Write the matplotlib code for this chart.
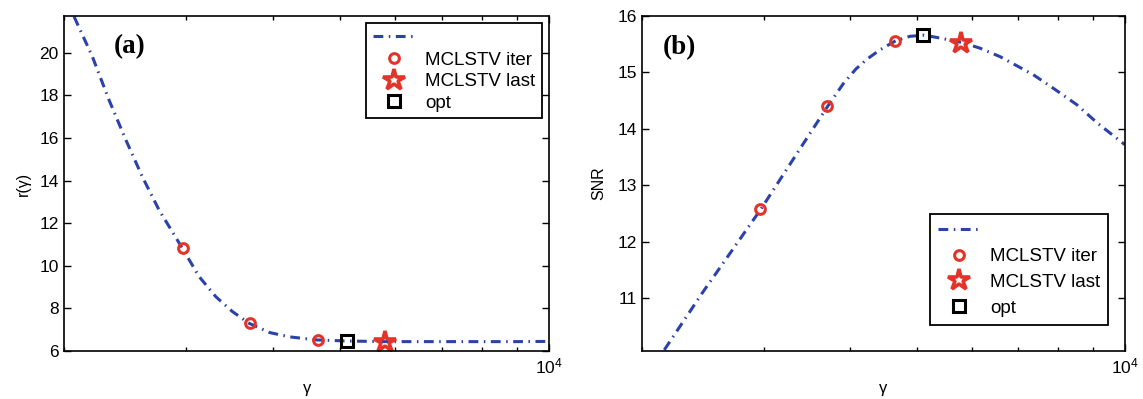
import matplotlib
matplotlib.use("Agg")
import matplotlib.pyplot as plt
from matplotlib.ticker import NullFormatter, FixedLocator, LogLocator

plt.rcParams['font.family'] = ['Liberation Sans', 'DejaVu Sans']
plt.rcParams['mathtext.default'] = 'regular'

# curve (a): r(gamma)
gam_a = [2066, 2195, 2320, 2453, 2591, 2739, 2960, 3129, 3307, 3495, 3694,
         3960, 4232, 4624, 5110, 5800, 6985, 8000, 8985, 10000]
r_a = [21.69, 19.82, 17.78, 15.91, 14.18, 12.62, 10.82, 9.49, 8.55, 7.85, 7.30,
       6.86, 6.66, 6.52, 6.47, 6.44, 6.44, 6.44, 6.44, 6.45]

# curve (b): SNR
gam_b = [2152, 2446, 2972, 3415, 3712, 3910, 4078, 4227, 4419, 4656, 4885,
         5117, 5397, 5814, 6169, 6595, 7369, 7877, 8517, 9133, 10000]
snr_b = [10.08, 11.10, 12.58, 13.72, 14.40, 14.80, 15.06, 15.23, 15.40, 15.56, 15.64,
         15.66, 15.61, 15.53, 15.43, 15.28, 14.96, 14.72, 14.43, 14.10, 13.72]

# markers
gam_iter = [2965, 3700, 4640]
r_iter = [10.82, 7.30, 6.52]
snr_iter = [12.58, 14.40, 15.56]
gam_last = [5800]
r_last = [6.44]
snr_last = [15.53]
gam_opt = [5110]
r_opt = [6.47]
snr_opt = [15.66]

legend_labels = ['', 'MCLSTV iter', 'MCLSTV last', 'opt']

BLUE = '#2b42a8'
RED = '#e3342a'

fig = plt.figure(figsize=(11.43, 3.99), dpi=100)
ax1 = fig.add_axes([0.05626, 0.1203, 0.4241, 0.8396])
ax2 = fig.add_axes([0.5620, 0.1203, 0.4220, 0.8396])


def draw(ax, gx, gy, iy, ly, oy):
    line, = ax.plot(gx, gy, color=BLUE, lw=2.2, dashes=[3.2, 1.8, 0.5, 1.8])
    it, = ax.plot(gam_iter, iy, 'o', ms=7, mfc='none', mec=RED, mew=2.2, ls='none')
    la, = ax.plot(gam_last, ly, '*', ms=16, mfc='none', mec=RED, mew=2.6, ls='none')
    op, = ax.plot(gam_opt, oy, 's', ms=8, mfc='none', mec='black', mew=2.2, ls='none')
    ax.set_xscale('log')
    ax.set_xlim(2000, 10000)
    ax.xaxis.set_major_locator(FixedLocator([10000]))
    ax.xaxis.set_minor_locator(LogLocator(base=10, subs=range(2, 10)))
    ax.xaxis.set_minor_formatter(NullFormatter())
    ax.tick_params(which='both', direction='in', top=True, right=True,
                   labelsize=12.5, width=1)
    ax.tick_params(which='major', length=5, pad=4)
    ax.tick_params(which='minor', length=3)
    for s in ax.spines.values():
        s.set_linewidth(1.2)
    ax.set_xlabel('γ', fontsize=12, labelpad=3)
    return [line, it, la, op]


h1 = draw(ax1, gam_a, r_a, r_iter, r_last, r_opt)
ax1.set_ylim(6, 21.72)
ax1.set_yticks([6, 8, 10, 12, 14, 16, 18, 20])
ax1.set_ylabel('r(γ)', fontsize=11.5, labelpad=6)
ax1.text(0.1355, 0.908, '(a)', transform=ax1.transAxes, fontsize=19.5,
         fontweight='bold', family='Liberation Serif', va='center', ha='center')
leg1 = ax1.legend(h1, legend_labels, loc='upper right', bbox_to_anchor=(0.985, 0.978),
                  borderaxespad=0, fontsize=13.5, fancybox=False, framealpha=1,
                  edgecolor='black', handlelength=2.3, handletextpad=0.5,
                  labelspacing=0.24, borderpad=0.35)
leg1.get_frame().set_linewidth(1.3)

h2 = draw(ax2, gam_b, snr_b, snr_iter, snr_last, snr_opt)
ax2.set_ylim(10.06, 16)
ax2.set_yticks([11, 12, 13, 14, 15, 16])
ax2.set_ylabel('SNR', fontsize=11.5, labelpad=8)
ax2.text(0.077, 0.906, '(b)', transform=ax2.transAxes, fontsize=19.5,
         fontweight='bold', family='Liberation Serif', va='center', ha='center')
leg2 = ax2.legend(h2, legend_labels, loc='lower right', bbox_to_anchor=(0.9662, 0.079),
                  borderaxespad=0, fontsize=13.5, fancybox=False, framealpha=1,
                  edgecolor='black', handlelength=2.3, handletextpad=0.5,
                  labelspacing=0.46, borderpad=0.42)
leg2.get_frame().set_linewidth(1.3)

fig.savefig('out.png', dpi=100)
